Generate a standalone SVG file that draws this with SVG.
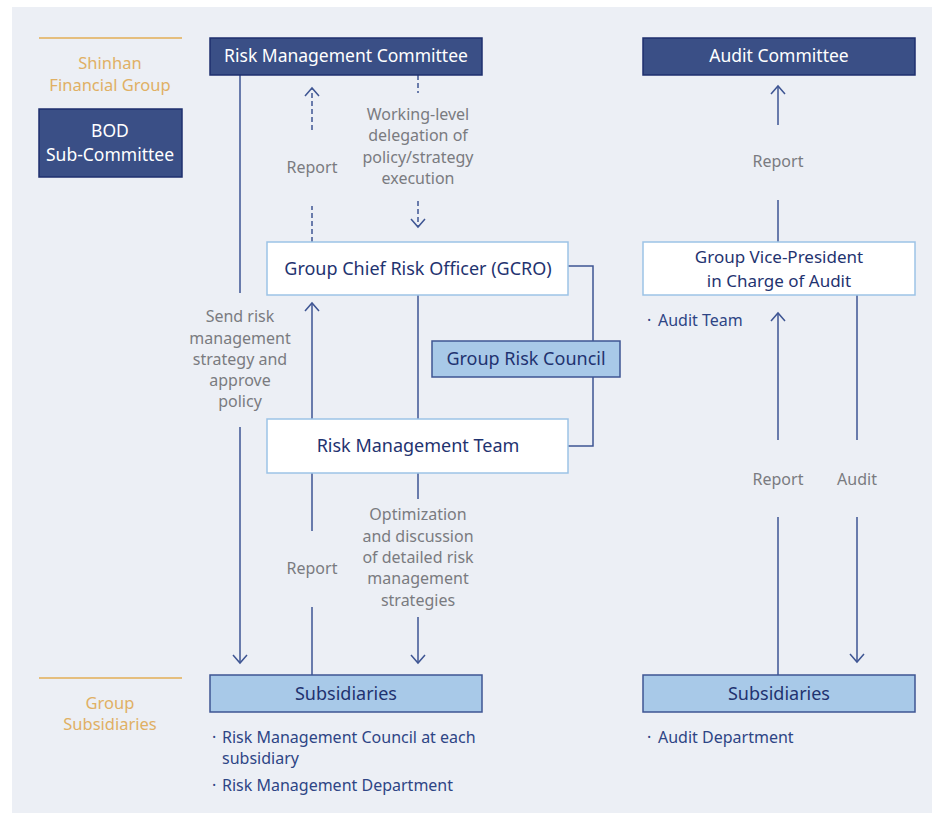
<svg xmlns="http://www.w3.org/2000/svg" width="932" height="814" viewBox="0 0 932 814">
  <style>
    text { font-family: "Noto Sans", "Open Sans", "Liberation Sans", sans-serif; }
    .panel { fill: #ECEFF5; }
    .rule { stroke: #E3AE55; stroke-width: 1.5; }
    .tier { fill: #E0B064; font-size: 16.5px; text-anchor: middle; }
    .dark rect { fill: #3A4F86; stroke: #1E2F6E; stroke-width: 1.5; }
    .dark text { fill: #FFFFFF; font-size: 17.5px; text-anchor: middle; }
    .white rect { fill: #FFFFFF; stroke: #9CC3E6; stroke-width: 1.5; }
    .white text { fill: #1F3370; font-size: 18px; text-anchor: middle; }
    .white text.two { font-size: 17px; }
    .light rect { fill: #A8C9E8; stroke: #3E5593; stroke-width: 1.5; }
    .light text { fill: #1F3370; font-size: 18px; text-anchor: middle; }
    .lbl { fill: #7A7B80; font-size: 16px; text-anchor: middle; }
    .note { fill: #2E4585; font-size: 16px; }
    .ln { stroke: #3E5593; stroke-width: 1.5; fill: none; }
    .dash { stroke-dasharray: 5 3; }
  </style>
  <defs>
    <!-- open chevron arrowhead -->
    <marker id="chev" markerUnits="userSpaceOnUse" markerWidth="20" markerHeight="20" viewBox="-10 -10 20 20" refX="0" refY="0" orient="auto">
      <path d="M-8,-7 L0,0 L-8,7" fill="none" stroke="#3E5593" stroke-width="1.5"/>
    </marker>
  </defs>

  <!-- background panel -->
  <rect class="panel" x="12" y="7" width="920" height="806"/>

  <!-- tier labels -->
  <g id="tier-group">
    <line class="rule" x1="39" y1="38" x2="182" y2="38"/>
    <text class="tier" x="110" y="69">Shinhan</text>
    <text class="tier" x="110" y="91">Financial Group</text>
  </g>
  <g id="tier-subsidiaries">
    <line class="rule" x1="39" y1="678" x2="182" y2="678"/>
    <text class="tier" x="110" y="709">Group</text>
    <text class="tier" x="110" y="730">Subsidiaries</text>
  </g>

  <!-- connectors -->
  <g id="connectors">
    <!-- RMC -> Subsidiaries -->
    <line class="ln" x1="240" y1="75" x2="240" y2="293"/>
    <line class="ln" x1="240" y1="427" x2="240" y2="663" marker-end="url(#chev)"/>
    <!-- GCRO -> RMC report (dashed) -->
    <line class="ln dash" x1="312" y1="242" x2="312" y2="206"/>
    <line class="ln dash" x1="312" y1="130" x2="312" y2="88" marker-end="url(#chev)"/>
    <!-- RMC -> GCRO delegation (dashed) -->
    <line class="ln dash" x1="418" y1="75" x2="418" y2="93"/>
    <line class="ln dash" x1="418" y1="201" x2="418" y2="227" marker-end="url(#chev)"/>
    <!-- GCRO - RMT -->
    <line class="ln" x1="418" y1="295" x2="418" y2="419"/>
    <!-- RMT -> GCRO -->
    <line class="ln" x1="312" y1="419" x2="312" y2="303" marker-end="url(#chev)"/>
    <!-- GCRO / Group Risk Council / RMT bracket -->
    <polyline class="ln" points="568,266 593,266 593,446 568,446"/>
    <!-- Subsidiaries -> RMT report -->
    <line class="ln" x1="312" y1="675" x2="312" y2="607"/>
    <line class="ln" x1="312" y1="531" x2="312" y2="473"/>
    <!-- RMT -> Subsidiaries -->
    <line class="ln" x1="418" y1="473" x2="418" y2="499"/>
    <line class="ln" x1="418" y1="617" x2="418" y2="663" marker-end="url(#chev)"/>
    <!-- GVP -> Audit Committee -->
    <line class="ln" x1="778" y1="242" x2="778" y2="200"/>
    <line class="ln" x1="778" y1="125" x2="778" y2="86" marker-end="url(#chev)"/>
    <!-- Subsidiaries -> GVP report -->
    <line class="ln" x1="778" y1="675" x2="778" y2="517"/>
    <line class="ln" x1="778" y1="440" x2="778" y2="313" marker-end="url(#chev)"/>
    <!-- GVP -> Subsidiaries audit -->
    <line class="ln" x1="857" y1="295" x2="857" y2="440"/>
    <line class="ln" x1="857" y1="517" x2="857" y2="662" marker-end="url(#chev)"/>
  </g>

  <!-- connector labels -->
  <g id="labels">
    <text class="lbl" x="312" y="173">Report</text>
    <text class="lbl" x="418" y="120">Working-level</text>
    <text class="lbl" x="418" y="141">delegation of</text>
    <text class="lbl" x="418" y="163">policy/strategy</text>
    <text class="lbl" x="418" y="184">execution</text>
    <text class="lbl" x="240" y="322">Send risk</text>
    <text class="lbl" x="240" y="344">management</text>
    <text class="lbl" x="240" y="365">strategy and</text>
    <text class="lbl" x="240" y="386">approve</text>
    <text class="lbl" x="240" y="407">policy</text>
    <text class="lbl" x="312" y="574">Report</text>
    <text class="lbl" x="418" y="520">Optimization</text>
    <text class="lbl" x="418" y="542">and discussion</text>
    <text class="lbl" x="418" y="563">of detailed risk</text>
    <text class="lbl" x="418" y="584">management</text>
    <text class="lbl" x="418" y="606">strategies</text>
    <text class="lbl" x="778" y="167">Report</text>
    <text class="lbl" x="778" y="485">Report</text>
    <text class="lbl" x="857" y="485">Audit</text>
  </g>

  <!-- nodes -->
  <g id="bod" class="dark">
    <rect x="39" y="109" width="143" height="68"/>
    <text x="110" y="137">BOD<tspan x="110" y="161">Sub-Committee</tspan></text>
  </g>
  <g id="risk-committee" class="dark">
    <rect x="210" y="38" width="272" height="37"/>
    <text x="346" y="62">Risk Management Committee</text>
  </g>
  <g id="audit-committee" class="dark">
    <rect x="643" y="38" width="272" height="37"/>
    <text x="779" y="62">Audit Committee</text>
  </g>
  <g id="gcro" class="white">
    <rect x="267" y="242" width="301" height="53"/>
    <text x="418" y="275">Group Chief Risk Officer (GCRO)</text>
  </g>
  <g id="group-risk-council" class="light">
    <rect x="432" y="341" width="188" height="36"/>
    <text x="526" y="365">Group Risk Council</text>
  </g>
  <g id="risk-team" class="white">
    <rect x="267" y="419" width="301" height="54"/>
    <text x="418" y="452">Risk Management Team</text>
  </g>
  <g id="audit-vp" class="white">
    <rect x="643" y="242" width="272" height="53"/>
    <text class="two" x="779" y="263">Group Vice-President<tspan x="779" y="286.5">in Charge of Audit</tspan></text>
  </g>
  <g id="subsidiaries-risk" class="light">
    <rect x="210" y="675" width="272" height="37"/>
    <text x="346" y="700">Subsidiaries</text>
  </g>
  <g id="subsidiaries-audit" class="light">
    <rect x="643" y="675" width="272" height="37"/>
    <text x="779" y="700">Subsidiaries</text>
  </g>

  <!-- notes -->
  <g id="notes">
    <text class="note" x="647" y="326">·</text>
    <text class="note" x="658" y="326">Audit Team</text>
    <text class="note" x="212" y="743">·</text>
    <text class="note" x="222" y="743">Risk Management Council at each</text>
    <text class="note" x="222" y="764">subsidiary</text>
    <text class="note" x="212" y="791">·</text>
    <text class="note" x="222" y="791">Risk Management Department</text>
    <text class="note" x="647" y="743">·</text>
    <text class="note" x="658" y="743">Audit Department</text>
  </g>
</svg>
